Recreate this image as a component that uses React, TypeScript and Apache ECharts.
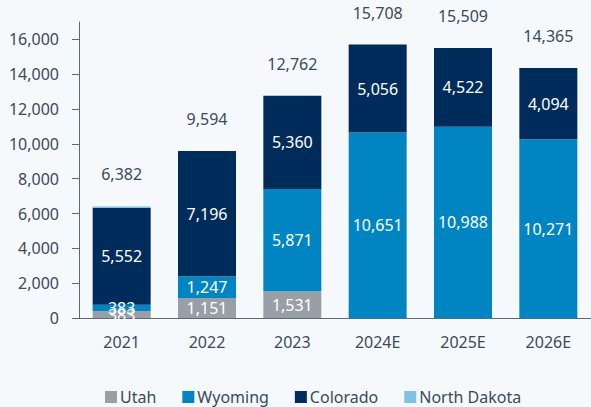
import React, { useEffect, useRef } from "react";
import * as echarts from "echarts";

const categories = ["2021", "2022", "2023", "2024E", "2025E", "2026E"];
const utah = [383, 1151, 1531, 0, 0, 0];
const wyoming = [383, 1247, 5871, 10651, 10988, 10271];
const colorado = [5552, 7196, 5360, 5056, 4522, 4094];
const northDakota = [90, 0, 0, 0, 0, 0];
const totals = [6382, 9594, 12762, 15708, 15509, 14365];
const yTicks = [0, 2000, 4000, 6000, 8000, 10000, 12000, 14000, 16000];

const FONT = "'Noto Sans', sans-serif";
const TEXT = "#3b4a5b";
const fmt = (v: number) => (v ? v.toLocaleString("en-US") : "");

export default function App() {
  const ref = useRef<HTMLDivElement>(null);
  useEffect(() => {
    if (!ref.current) return;
    const chart = echarts.init(ref.current, undefined, { renderer: "svg" });
    const segLabel = {
      show: true,
      position: "inside" as const,
      color: "#ffffff",
      fontSize: 16,
      fontFamily: FONT,
      formatter: (p: any) => fmt(p.value),
    };
    chart.setOption({
      animation: false,
      backgroundColor: "#f5f9fc",
      textStyle: { fontFamily: FONT },
      grid: { left: 79, right: -3, top: 22, bottom: 89 },
      legend: {
        data: ["Utah", "Wyoming", "Colorado", "North Dakota"],
        left: 100,
        top: 384,
        itemWidth: 12,
        itemHeight: 12,
        itemGap: 26,
        icon: "rect",
        textStyle: { color: TEXT, fontSize: 16, fontFamily: FONT, padding: [0, 0, 0, -2] },
      },
      xAxis: {
        type: "category",
        data: categories,
        axisLine: { lineStyle: { color: "#5b6a79", width: 1 } },
        axisTick: { show: false },
        axisLabel: { color: TEXT, fontSize: 16, fontFamily: FONT, margin: 16 },
      },
      yAxis: {
        type: "value",
        min: 0,
        max: 17000,
        interval: 2000,
        splitLine: { show: false },
        axisLine: { show: true, lineStyle: { color: "#5b6a79", width: 1 } },
        axisTick: { show: true, length: 7, lineStyle: { color: "#5b6a79" }, customValues: yTicks },
        axisLabel: {
          color: TEXT,
          fontSize: 16,
          fontFamily: FONT,
          margin: 20,
          customValues: yTicks,
          formatter: (v: number) => v.toLocaleString("en-US"),
        },
      },
      series: [
        { name: "Utah", type: "bar", stack: "s", barWidth: 58, data: utah, itemStyle: { color: "#989fa7" }, label: segLabel },
        { name: "Wyoming", type: "bar", stack: "s", barWidth: 58, data: wyoming, itemStyle: { color: "#0084c2" }, label: segLabel },
        { name: "Colorado", type: "bar", stack: "s", barWidth: 58, data: colorado, itemStyle: { color: "#002c5c" }, label: segLabel },
        { name: "North Dakota", type: "bar", stack: "s", barWidth: 58, data: northDakota, itemStyle: { color: "#7fc2e4" }, label: { show: false } },
        {
          name: "Total",
          type: "bar",
          stack: "s",
          barWidth: 58,
          data: totals.map(() => 0),
          itemStyle: { color: "transparent" },
          label: {
            show: true,
            position: "top",
            distance: 24,
            color: TEXT,
            fontSize: 16,
            fontFamily: FONT,
            formatter: (p: any) => totals[p.dataIndex].toLocaleString("en-US"),
          },
        },
      ],
    });
    return () => chart.dispose();
  }, []);
  return (
    <div
      ref={ref}
      style={{ position: "fixed", left: 0, top: 0, width: 591, height: 407, background: "#f5f9fc" }}
    />
  );
}
